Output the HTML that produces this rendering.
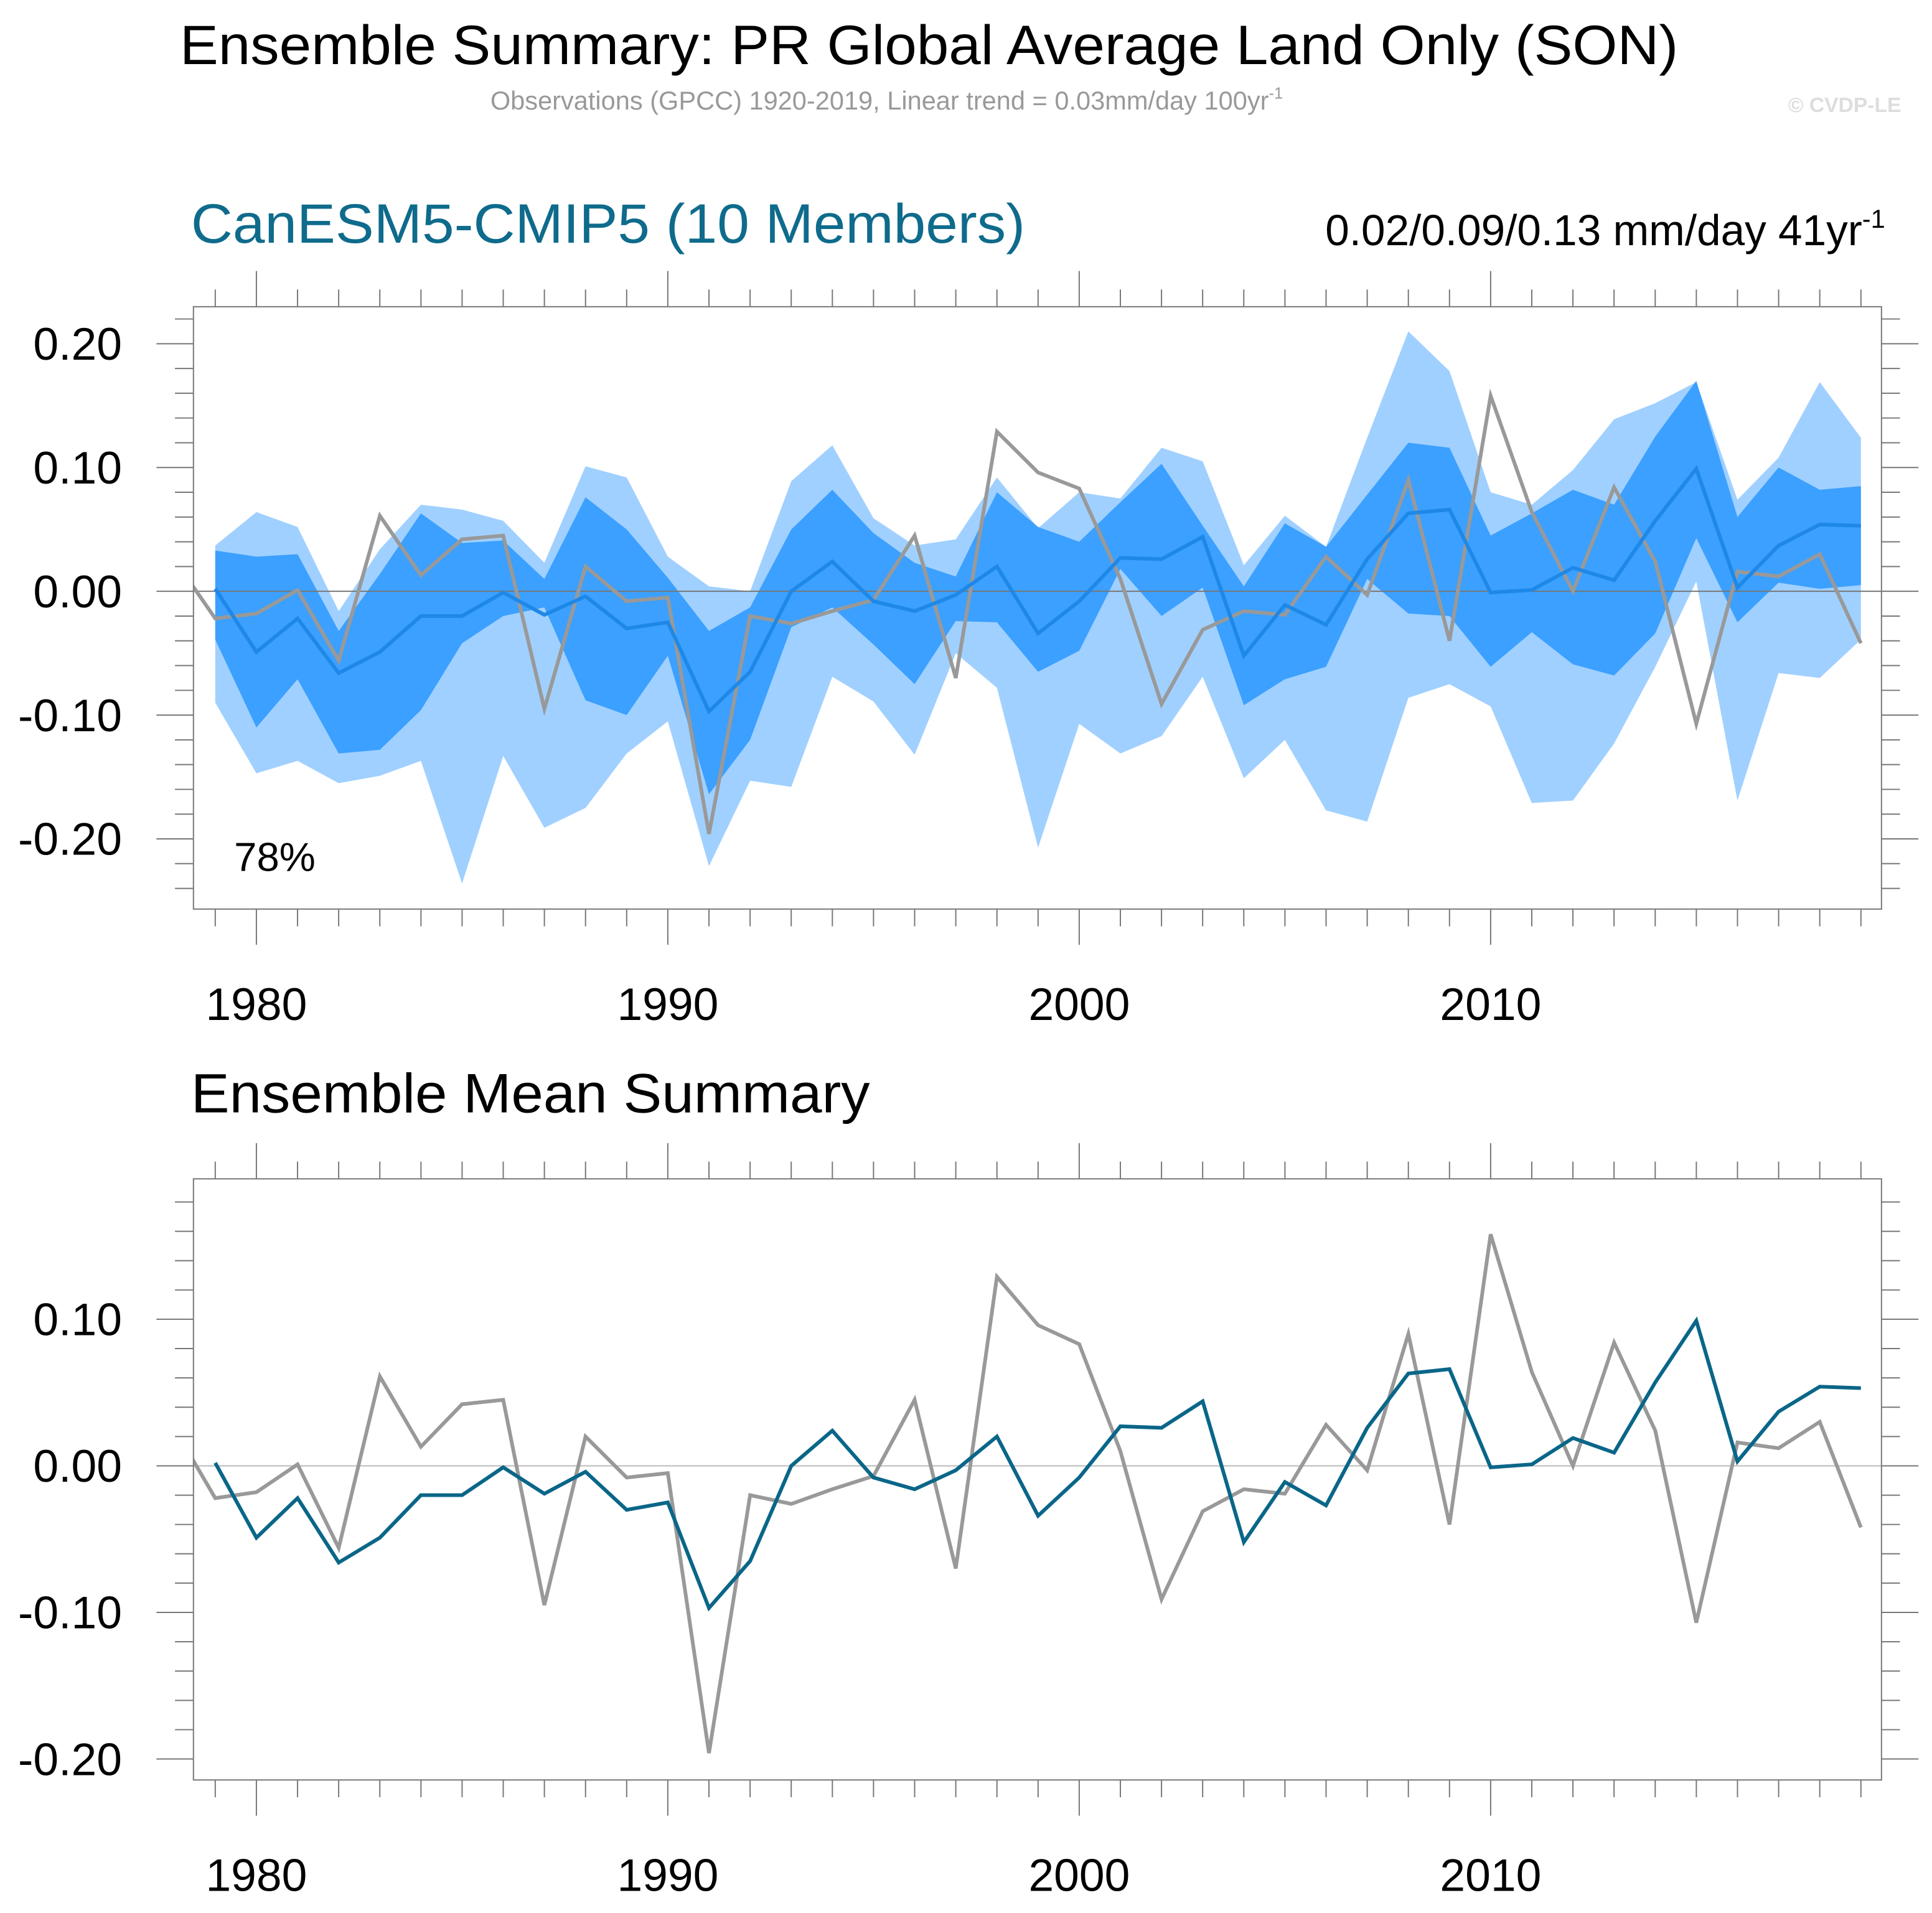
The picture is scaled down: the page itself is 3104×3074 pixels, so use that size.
<!DOCTYPE html>
<html><head><meta charset="utf-8"><style>
html,body{margin:0;padding:0;background:#fff;}
svg{display:block;}
text{font-family:"Liberation Sans",sans-serif;}
</style></head><body>
<svg id="chart" width="3104" height="3074" viewBox="0 0 1568 1553" preserveAspectRatio="none" xmlns="http://www.w3.org/2000/svg">
<defs>
<clipPath id="clipTop"><rect x="157" y="249" width="1370" height="489"/></clipPath>
<clipPath id="clipBot"><rect x="157" y="957" width="1370" height="488"/></clipPath>
</defs>
<text x="146" y="52" font-size="45" fill="#000" textLength="1216" lengthAdjust="spacingAndGlyphs">Ensemble Summary: PR Global Average Land Only (SON)</text>
<text x="398" y="89" font-size="21" fill="#999">Observations (GPCC) 1920-2019, Linear trend = 0.03mm/day 100yr<tspan dy="-9" font-size="13">-1</tspan></text>
<text x="1543" y="91" font-size="17" font-weight="bold" fill="#ddd" text-anchor="end">© CVDP-LE</text>
<text x="155" y="197" font-size="45" fill="#0f6b8c" textLength="677" lengthAdjust="spacingAndGlyphs">CanESM5-CMIP5 (10 Members)</text>
<text x="1530" y="199" font-size="35" fill="#000" text-anchor="end">0.02/0.09/0.13 mm/day 41yr<tspan dy="-14" font-size="21">-1</tspan></text>
<text x="155" y="903" font-size="45" fill="#000" textLength="551" lengthAdjust="spacingAndGlyphs">Ensemble Mean Summary</text>
<g id="top"></g>
<g id="bot"></g>
</svg>
<script>
const years = [1979,1980,1981,1982,1983,1984,1985,1986,1987,1988,1989,1990,1991,1992,1993,1994,1995,1996,1997,1998,1999,2000,2001,2002,2003,2004,2005,2006,2007,2008,2009,2010,2011,2012,2013,2014,2015,2016,2017,2018,2019];
const ensMean = [0.002,-0.049,-0.022,-0.066,-0.049,-0.020,-0.020,-0.001,-0.019,-0.004,-0.030,-0.025,-0.097,-0.065,0.000,0.024,-0.008,-0.016,-0.003,0.020,-0.034,-0.008,0.027,0.026,0.044,-0.052,-0.011,-0.027,0.026,0.063,0.066,-0.001,0.001,0.019,0.009,0.057,0.099,0.003,0.037,0.054,0.053];
const obsYears = [1978,1979,1980,1981,1982,1983,1984,1985,1986,1987,1988,1989,1990,1991,1992,1993,1994,1995,1996,1997,1998,1999,2000,2001,2002,2003,2004,2005,2006,2007,2008,2009,2010,2011,2012,2013,2014,2015,2016,2017,2018,2019];
const obs = [0.026,-0.022,-0.018,0.001,-0.056,0.061,0.013,0.042,0.045,-0.095,0.020,-0.008,-0.005,-0.196,-0.020,-0.026,-0.016,-0.007,0.045,-0.070,0.129,0.096,0.083,0.010,-0.091,-0.031,-0.016,-0.019,0.028,-0.003,0.090,-0.040,0.158,0.064,0.000,0.084,0.024,-0.107,0.016,0.012,0.030,-0.042];
const outerMax = [0.037,0.064,0.052,-0.016,0.034,0.070,0.066,0.057,0.023,0.101,0.092,0.028,0.004,0.000,0.089,0.118,0.059,0.037,0.042,0.092,0.051,0.080,0.075,0.116,0.105,0.021,0.061,0.036,0.124,0.210,0.178,0.080,0.070,0.098,0.139,0.152,0.169,0.074,0.108,0.169,0.124];
const outerMin = [-0.090,-0.147,-0.137,-0.155,-0.149,-0.137,-0.236,-0.133,-0.191,-0.175,-0.131,-0.105,-0.222,-0.153,-0.158,-0.069,-0.089,-0.132,-0.050,-0.078,-0.207,-0.107,-0.131,-0.117,-0.069,-0.151,-0.120,-0.177,-0.186,-0.086,-0.075,-0.093,-0.171,-0.169,-0.123,-0.061,0.008,-0.169,-0.066,-0.070,-0.039];
const innerMax = [0.033,0.028,0.030,-0.032,0.014,0.063,0.039,0.041,0.010,0.076,0.050,0.011,-0.032,-0.013,0.050,0.082,0.047,0.023,0.012,0.080,0.052,0.040,0.072,0.103,0.053,0.004,0.055,0.036,0.078,0.120,0.116,0.045,0.063,0.082,0.070,0.125,0.170,0.060,0.100,0.082,0.085];
const innerMin = [-0.039,-0.110,-0.071,-0.131,-0.128,-0.096,-0.042,-0.020,-0.013,-0.088,-0.100,-0.052,-0.164,-0.120,-0.029,-0.013,-0.043,-0.075,-0.024,-0.025,-0.065,-0.048,0.018,-0.020,0.003,-0.092,-0.071,-0.061,0.010,-0.018,-0.020,-0.061,-0.033,-0.059,-0.068,-0.034,0.043,-0.025,0.007,0.002,0.005];
const xTickLabels = [1980,1990,2000,2010];
const topYTicks = [0.20,0.10,0.00,-0.10,-0.20];
const botYTicks = [0.10,0.00,-0.10,-0.20];
const percentLabel = "78%";

const NS = "http://www.w3.org/2000/svg";
const X0 = 157, X1 = 1527, yr0 = 1978.47, yr1 = 2019.5;
function xs(y){ return X0 + (y - yr0) / (yr1 - yr0) * (X1 - X0); }
function mk(tag, attrs, parent){ const e = document.createElementNS(NS, tag); for (const k in attrs) e.setAttribute(k, attrs[k]); parent.appendChild(e); return e; }
function pts(xv, yv, ys){ return xv.map((y,i)=>xs(y).toFixed(1)+","+ys(yv[i]).toFixed(1)).join(" "); }

function drawPanel(g, top, bot, vTop, vBot, yTicks, clip, isTop){
  const ys = v => top + (vTop - v) / (vTop - vBot) * (bot - top);
  const ax = mk('g', {}, g);
  
  
  for (let y = 1979; y <= 2019; y++) {
    const x = xs(y), major = y % 10 === 0;
    const t1 = mk('line', {x1:x, x2:x, y1:top, y2:top-(major?29:14), stroke:'#777', 'stroke-width':1}, ax);
    
    
    const t2 = mk('line', {x1:x, x2:x, y1:bot, y2:bot+(major?29:14), stroke:'#777', 'stroke-width':1}, ax);
    
    
  }
  xTickLabels.forEach(y => {
    const t = mk('text', {x:xs(y), y:bot+90, 'font-size':37, 'text-anchor':'middle'}, ax);
    
    
    t.textContent = y;
  });
  for (let v = Math.ceil(vBot*50)/50; v <= vTop + 1e-9; v += 0.02) {
    const vv = Math.round(v*100)/100, y = ys(vv);
    const major = Math.abs(Math.round(vv*10) - vv*10) < 1e-6;
    const l = mk('line', {x1:X0-(major?30:15), x2:X0, y1:y, y2:y, stroke:'#777', 'stroke-width':1}, ax);
    
    
    const r = mk('line', {x1:X1, x2:X1+(major?30:15), y1:y, y2:y, stroke:'#777', 'stroke-width':1}, ax);
    
    
  }
  yTicks.forEach(v => {
    const t = mk('text', {x:99, y:ys(v)+13, 'font-size':37, 'text-anchor':'end'}, ax);
    
    
    t.textContent = v.toFixed(2);
  });
  const pg = mk('g', {'clip-path':'url(#'+clip+')'}, g);
  
  
  if (isTop) {
    const o = mk('polygon', {points: pts(years, outerMax, ys) + " " + pts(years.slice().reverse(), outerMin.slice().reverse(), ys), fill:'#a0d0ff'}, pg);
    
    
    const n = mk('polygon', {points: pts(years, innerMax, ys) + " " + pts(years.slice().reverse(), innerMin.slice().reverse(), ys), fill:'#3ba0ff'}, pg);
    
    
  }
  const z = mk('line', {x1:X0, x2:X1, y1:ys(0), y2:ys(0), stroke: isTop?'#777':'#bbb', 'stroke-width':1}, pg);
  
  
  const ol = mk('polyline', {points: pts(obsYears, obs, ys), fill:'none', stroke:'#999', 'stroke-width':3}, pg);
  
  
  const ml = mk('polyline', {points: pts(years, ensMean, ys), fill:'none', stroke: isTop?'#1e88e8':'#0a6688', 'stroke-width':3}, pg);
  
  
  const box = mk('rect', {x:X0, y:top, width:X1-X0, height:bot-top, fill:'none', stroke:'#777', 'stroke-width':1}, g);
  
  
  if (isTop) {
    const p = mk('text', {x:190, y:707, 'font-size':33}, g);
    
    
    p.textContent = percentLabel;
  }
}
const topG = document.getElementById('top');


const botG = document.getElementById('bot');


drawPanel(topG, 249, 738, 0.2299, -0.2567, topYTicks, 'clipTop', true);
drawPanel(botG, 957, 1445, 0.1958, -0.2143, botYTicks, 'clipBot', false);
</script>
</body></html>
